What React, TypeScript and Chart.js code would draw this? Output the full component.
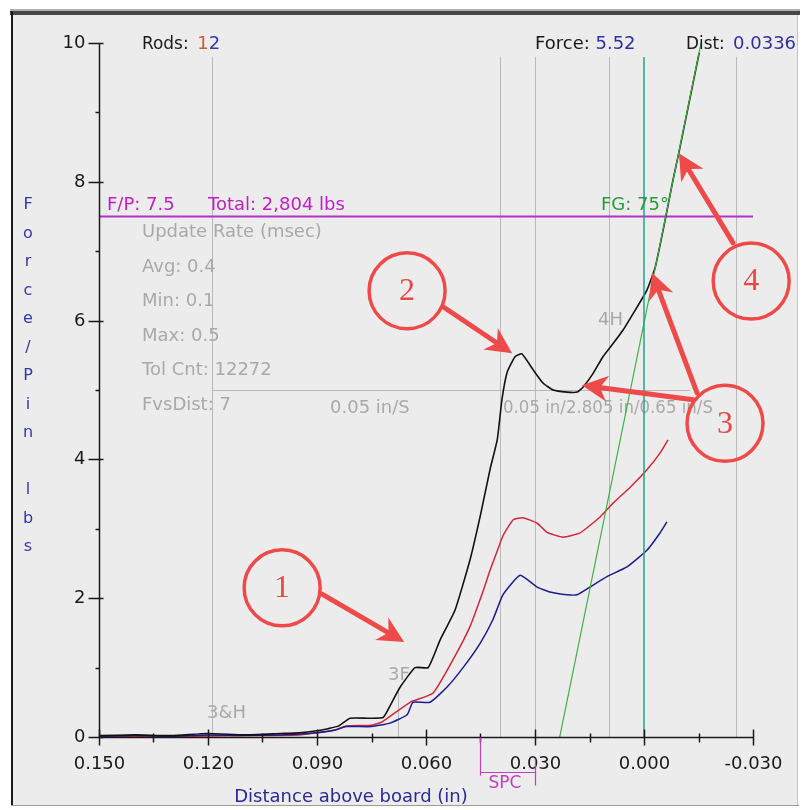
import React, { useEffect, useRef } from 'react';
import { Chart, registerables } from 'chart.js';

Chart.register(...registerables);

// ---- Data (distance above board in inches, force per pin in lbs) ----
const blackX = [0.150, 0.140, 0.130, 0.120, 0.110, 0.100, 0.095, 0.090, 0.087, 0.084, 0.0809, 0.076, 0.0718, 0.0699, 0.0671, 0.0630, 0.0594, 0.0561, 0.0520, 0.0479, 0.0450, 0.0424, 0.0404, 0.0391, 0.0377, 0.0355, 0.0336, 0.0305, 0.0278, 0.0250, 0.0212, 0.0184, 0.0168, 0.0140, 0.0113, 0.0085, 0.0058, 0.0030, -0.0008, -0.0031, -0.0047, -0.0062, -0.0080, -0.0096, -0.0152];
const blackY = [0.02, 0.03, 0.02, 0.05, 0.03, 0.05, 0.06, 0.09, 0.12, 0.16, 0.27, 0.27, 0.28, 0.45, 0.72, 1.0, 1.0, 1.4, 1.83, 2.55, 3.2, 3.85, 4.28, 4.86, 5.25, 5.48, 5.52, 5.29, 5.10, 5.0, 4.97, 4.97, 5.04, 5.24, 5.48, 5.67, 5.86, 6.1, 6.44, 6.77, 7.16, 7.55, 8.03, 8.42, 9.86];

const redX = [0.150, 0.130, 0.110, 0.095, 0.090, 0.085, 0.082, 0.075, 0.072, 0.0644, 0.0581, 0.0526, 0.0479, 0.0443, 0.0424, 0.0404, 0.0388, 0.0360, 0.0333, 0.0294, 0.0267, 0.0223, 0.0176, 0.0121, 0.0085, 0.0038, -0.0008, -0.0044, -0.0066];
const redY = [0.01, 0.01, 0.02, 0.03, 0.06, 0.1, 0.16, 0.17, 0.22, 0.5, 0.63, 1.11, 1.59, 2.1, 2.4, 2.68, 2.9, 3.13, 3.16, 3.08, 2.95, 2.88, 2.94, 3.17, 3.37, 3.6, 3.85, 4.09, 4.28];

const blueX = [0.150, 0.140, 0.130, 0.120, 0.110, 0.100, 0.095, 0.090, 0.085, 0.082, 0.075, 0.0699, 0.0652, 0.0636, 0.0589, 0.0542, 0.0498, 0.0451, 0.0416, 0.0388, 0.0341, 0.0294, 0.0259, 0.0212, 0.0184, 0.0149, 0.0102, 0.0047, -0.0008, -0.0044, -0.0063];
const blueY = [0.01, 0.02, 0.01, 0.03, 0.02, 0.03, 0.04, 0.06, 0.1, 0.15, 0.15, 0.2, 0.32, 0.5, 0.5, 0.72, 1.0, 1.35, 1.69, 2.05, 2.33, 2.16, 2.09, 2.05, 2.05, 2.16, 2.31, 2.45, 2.69, 2.94, 3.1];

const fgLineX = [0.0232, -0.0157];
const fgLineY = [0, 10];
const zeroLineX = [0, 0];
const zeroLineY = [0, 9.8];
const fpLineX = [0.150, -0.030];
const fpLineY = [7.5, 7.5];

const eventLinesX = [0.1189, 0.0396, 0.030, 0.0096, -0.0253];
const eventTop = 9.8;
const speedLineX = [0.1189, -0.0127];
const speedLineY = 5;
const shortEventX = 0.0677;
const shortEventTop = 0.7;

const yMajorTicks = [0, 2, 4, 6, 8, 10];
const yTickLabels = ['0', '2', '4', '6', '8', '10'];
const yMinorTicks = [1, 3, 5, 7, 9];
const xMajorTicks = [0.150, 0.120, 0.090, 0.060, 0.030, 0.000, -0.030];
const xTickLabels = ['0.150', '0.120', '0.090', '0.060', '0.030', '0.000', '-0.030'];
const xMinorTicks = [0.135, 0.105, 0.075, 0.045, 0.015, -0.015];
const spcRange = [0.045, 0.030];

const yTitleChars = ['F', 'o', 'r', 'c', 'e', '/', 'P', 'i', 'n', '', 'l', 'b', 's'];
const xTitle = 'Distance above board (in)';
const infoLines = ['Update Rate (msec)', 'Avg: 0.4', 'Min: 0.1', 'Max: 0.5', 'Tol Cnt: 12272', 'FvsDist: 7'];

const circleX = [0.0996, 0.0652, -0.0223, -0.0295];
const circleY = [2.15, 6.43, 4.52, 6.57];
const circleLabels = ['1', '2', '3', '4'];
const arrowFromX = [0.0886, 0.0553, -0.0135, -0.0146, -0.0245];
const arrowFromY = [2.06, 6.20, 4.86, 4.96, 7.12];
const arrowToX = [0.0660, 0.0363, 0.0171, -0.0022, -0.0096];
const arrowToY = [1.37, 5.53, 5.07, 6.69, 8.41];

const toPts = (xs: number[], ys: number[]) => xs.map((x, i) => ({ x, y: ys[i] }));

const FONT = '"DejaVu Sans", "Liberation Sans", Arial, sans-serif';

function txt(ctx: CanvasRenderingContext2D, s: string, x: number, y: number, color: string, size = 18, align: CanvasTextAlign = 'left', maxW?: number, family = FONT) {
  ctx.font = `${size}px ${family}`;
  ctx.fillStyle = color;
  ctx.textAlign = align;
  ctx.textBaseline = 'middle';
  if (maxW) ctx.fillText(s, x, y, maxW);
  else ctx.fillText(s, x, y);
  return ctx.measureText(s).width;
}

function arrow(ctx: CanvasRenderingContext2D, x1: number, y1: number, x2: number, y2: number) {
  const a = Math.atan2(y2 - y1, x2 - x1);
  const hl = 26, hw = 13;
  const c = Math.cos(a), s = Math.sin(a);
  const bx = x2 - hl * c, by = y2 - hl * s;
  ctx.beginPath();
  ctx.moveTo(x1, y1);
  ctx.lineTo(x2 - hl * 0.6 * c, y2 - hl * 0.6 * s);
  ctx.stroke();
  ctx.beginPath();
  ctx.moveTo(x2, y2);
  ctx.lineTo(bx + hw * s, by - hw * c);
  ctx.lineTo(x2 - hl * 0.7 * c, y2 - hl * 0.7 * s);
  ctx.lineTo(bx - hw * s, by + hw * c);
  ctx.closePath();
  ctx.fill();
}

const framePlugin = {
  id: 'frame',
  beforeDraw(chart: any) {
    const ctx: CanvasRenderingContext2D = chart.ctx;
    const W = chart.width, H = chart.height;
    ctx.save();
    ctx.fillStyle = '#ffffff';
    ctx.fillRect(0, 0, W, H);
    ctx.fillStyle = '#ececec';
    ctx.fillRect(12, 15, 786, 790);
    ctx.fillStyle = '#b0b0b0';
    ctx.fillRect(10, 9, 790, 2);
    ctx.fillStyle = '#454545';
    ctx.fillRect(10, 11, 790, 4);
    ctx.fillStyle = '#1a1a1a';
    ctx.fillRect(11, 11, 2, 795);
    ctx.fillStyle = '#c4c4c4';
    ctx.fillRect(797, 15, 1, 790);
    ctx.fillStyle = '#9a9a9a';
    ctx.fillRect(11, 805, 788, 1);
    ctx.restore();
  },
  beforeDatasetsDraw(chart: any) {
    const ctx: CanvasRenderingContext2D = chart.ctx;
    const xs = chart.scales.x, ys = chart.scales.y;
    ctx.save();
    ctx.strokeStyle = '#b9b9b9';
    ctx.lineWidth = 1;
    eventLinesX.forEach((v) => {
      const p = Math.round(xs.getPixelForValue(v)) + 0.5;
      ctx.beginPath();
      ctx.moveTo(p, ys.getPixelForValue(eventTop));
      ctx.lineTo(p, ys.getPixelForValue(0));
      ctx.stroke();
    });
    const hy = Math.round(ys.getPixelForValue(speedLineY)) + 0.5;
    ctx.beginPath();
    ctx.moveTo(xs.getPixelForValue(speedLineX[0]), hy);
    ctx.lineTo(xs.getPixelForValue(speedLineX[1]), hy);
    ctx.stroke();
    const sp = Math.round(xs.getPixelForValue(shortEventX)) + 0.5;
    ctx.beginPath();
    ctx.moveTo(sp, ys.getPixelForValue(shortEventTop));
    ctx.lineTo(sp, ys.getPixelForValue(0));
    ctx.stroke();
    // gray info texts
    const g = '#a9a9a9';
    const infoY = [232, 267, 301, 336, 370, 405];
    infoLines.forEach((s, i) => txt(ctx, s, 142, infoY[i], g, 18));
    txt(ctx, '0.05 in/S', 330, 408, g, 18);
    txt(ctx, '0.05 in/2.805 in/0.65 in/S', 503, 408, g, 18, 'left', 210);
    txt(ctx, '4H', 598, 320, g, 18);
    txt(ctx, '3F', 388, 675, g, 18);
    txt(ctx, '3&H', 207, 713, g, 18);
    ctx.restore();
  },
  afterDatasetsDraw(chart: any) {
    const ctx: CanvasRenderingContext2D = chart.ctx;
    const xs = chart.scales.x, ys = chart.scales.y;
    const ax = Math.round(xs.getPixelForValue(0.150)) + 0.5;
    const ay = Math.round(ys.getPixelForValue(0)) + 0.5;
    const axEnd = xs.getPixelForValue(-0.030);
    ctx.save();
    ctx.strokeStyle = '#1a1a1a';
    ctx.lineWidth = 1.5;
    // y axis
    ctx.beginPath();
    ctx.moveTo(ax, ys.getPixelForValue(10));
    ctx.lineTo(ax, ay);
    ctx.stroke();
    yMajorTicks.forEach((v, i) => {
      const p = Math.round(ys.getPixelForValue(v)) + 0.5;
      ctx.beginPath();
      ctx.moveTo(ax - 11, p);
      ctx.lineTo(ax + 4, p);
      ctx.stroke();
      txt(ctx, yTickLabels[i], ax - 14, p, '#1a1a1a', 18, 'right');
    });
    yMinorTicks.forEach((v) => {
      const p = Math.round(ys.getPixelForValue(v)) + 0.5;
      ctx.beginPath();
      ctx.moveTo(ax - 4, p);
      ctx.lineTo(ax, p);
      ctx.stroke();
    });
    // x axis
    ctx.beginPath();
    ctx.moveTo(ax, ay);
    ctx.lineTo(axEnd, ay);
    ctx.stroke();
    xMajorTicks.forEach((v, i) => {
      const p = Math.round(xs.getPixelForValue(v)) + 0.5;
      ctx.beginPath();
      ctx.moveTo(p, ay - 8);
      ctx.lineTo(p, ay + 8);
      ctx.stroke();
      txt(ctx, xTickLabels[i], p, ay + 27, '#1a1a1a', 18, 'center');
    });
    xMinorTicks.forEach((v) => {
      const p = Math.round(xs.getPixelForValue(v)) + 0.5;
      ctx.beginPath();
      ctx.moveTo(p, ay - 4);
      ctx.lineTo(p, ay + 5);
      ctx.stroke();
    });
    // SPC bracket
    const s0 = Math.round(xs.getPixelForValue(spcRange[0])) + 0.5;
    const s1 = Math.round(xs.getPixelForValue(spcRange[1])) + 0.5;
    ctx.strokeStyle = '#c040c0';
    ctx.lineWidth = 1.2;
    ctx.beginPath();
    ctx.moveTo(s0, ay);
    ctx.lineTo(s0, ay + 38);
    ctx.moveTo(s0, ay + 35);
    ctx.lineTo(s1, ay + 35);
    ctx.moveTo(s1, ay + 22);
    ctx.lineTo(s1, ay + 48);
    ctx.stroke();
    txt(ctx, 'SPC', s0 + 8, ay + 46, '#c040c0', 17);

    // axis titles
    txt(ctx, xTitle, 351, 797, '#2a2a90', 18, 'center', 238);
    yTitleChars.forEach((c, i) => {
      if (c) txt(ctx, c, 28, 205 + i * 28.5, '#3535a8', 16, 'center');
    });

    // header readouts
    let x = 142;
    x += txt(ctx, 'Rods: ', x, 44, '#1a1a1a', 18, 'left', 52);
    x += txt(ctx, '1', x, 44, '#c0603a', 18);
    txt(ctx, '2', x, 44, '#3a3aa0', 18);
    x = 535;
    x += txt(ctx, 'Force: ', x, 44, '#1a1a1a', 18);
    txt(ctx, '5.52', x, 44, '#30309a', 18);
    x = 686;
    x += txt(ctx, 'Dist: ', x, 44, '#1a1a1a', 18, 'left', 44);
    txt(ctx, '0.0336', x, 44, '#30309a', 18, 'left', 66);

    // F/P line labels
    txt(ctx, 'F/P: 7.5', 107, 205, '#c020c0', 18);
    txt(ctx, 'Total: 2,804 lbs', 208, 205, '#c020c0', 18, 'left', 140);
    txt(ctx, 'FG: 75°', 601, 205, '#2a9a3a', 18);

    // red annotations
    ctx.strokeStyle = '#ee4a4a';
    ctx.fillStyle = '#ee4a4a';
    ctx.lineWidth = 3.5;
    circleX.forEach((cx, i) => {
      const px = xs.getPixelForValue(cx), py = ys.getPixelForValue(circleY[i]);
      ctx.beginPath();
      ctx.arc(px, py, 38, 0, Math.PI * 2);
      ctx.stroke();
      txt(ctx, circleLabels[i], px, py + 1, '#e84848', 32, 'center', undefined, '"Liberation Serif", "DejaVu Serif", serif');
    });
    ctx.strokeStyle = '#ee4a4a';
    ctx.fillStyle = '#ee4a4a';
    ctx.lineWidth = 5;
    ctx.lineCap = 'round';
    arrowFromX.forEach((fx, i) => {
      arrow(ctx, xs.getPixelForValue(fx), ys.getPixelForValue(arrowFromY[i]), xs.getPixelForValue(arrowToX[i]), ys.getPixelForValue(arrowToY[i]));
    });
    ctx.restore();
  },
};

export default function App() {
  const ref = useRef<HTMLCanvasElement>(null);
  useEffect(() => {
    const canvas = ref.current;
    if (!canvas) return;
    const line = (data: any, color: string, width: number, order: number) => ({
      data,
      borderColor: color,
      backgroundColor: color,
      borderWidth: width,
      pointRadius: 0,
      tension: 0.15,
      fill: false,
      order,
    });
    const chart = new Chart(canvas, {
      type: 'line',
      data: {
        datasets: [
          line(toPts(fpLineX, fpLineY), '#b431c6', 2, 6),
          line(toPts(redX, redY), '#d0283a', 1.5, 4),
          line(toPts(blueX, blueY), '#1c1c8e', 1.5, 3),
          line(toPts(blackX, blackY), '#111111', 1.6, 2),
          line(toPts(fgLineX, fgLineY), '#3cb043', 1.2, 1),
          line(toPts(zeroLineX, zeroLineY), '#1fa58a', 1.5, 0),
        ] as any,
      },
      options: {
        responsive: false,
        animation: false,
        devicePixelRatio: 1,
        events: [],
        layout: { padding: { left: 99, right: 50, top: 43, bottom: 73 } },
        plugins: { legend: { display: false }, tooltip: { enabled: false } },
        scales: {
          x: { type: 'linear', reverse: true, min: -0.03, max: 0.15, display: false },
          y: { type: 'linear', min: 0, max: 10, display: false },
        },
      } as any,
      plugins: [framePlugin as any],
    });
    return () => chart.destroy();
  }, []);
  return (
    <div style={{ position: 'absolute', left: 0, top: 0, width: 803, height: 810 }}>
      <canvas ref={ref} width={803} height={810} style={{ display: 'block' }} />
    </div>
  );
}
